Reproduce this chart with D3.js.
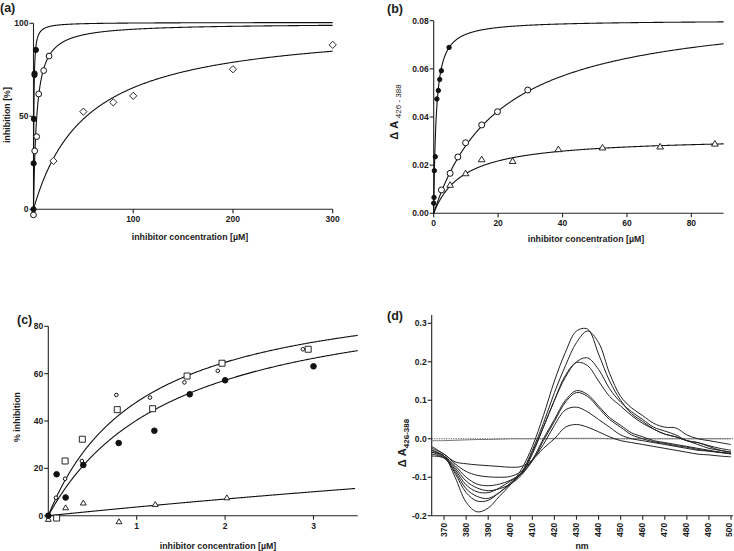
<!DOCTYPE html>
<html><head><meta charset="utf-8">
<script src="https://cdn.jsdelivr.net/npm/d3@7"></script>
<style>
body{margin:0;background:#fff}
svg text{font-family:"Liberation Sans",Arial,sans-serif;font-weight:bold;fill:#1a1a1a}
</style></head>
<body><svg width="734" height="551"></svg>
<script>
// ---------- Panel (a) ----------
const aTicksX=[100,200,300], aTicksY=[0,50,100];
const aFilledX=[0,0.15,0.4,1.0,1.05,2.4], aFilledY=[0,24.7,48.6,72.2,73,85.7];
const aOpenX=[0,1.2,3.2,5.2,10.2,15.6], aOpenY=[-3,31.4,39.1,62,74.6,82.4];
const aDiamX=[20,50,80,100,200,300], aDiamY=[26,52.5,57.5,61,75.3,88.4];
const aFitBmax=[100.5,100,100], aFitKd=[0.36,3.3,53];
// ---------- Panel (b) ----------
const bTicksX=[0,20,40,60,80], bTicksY=[0,0.02,0.04,0.06,0.08];
const bFilledX=[0,0.1,0.2,0.5,1.0,1.45,1.87,2.38,4.77], bFilledY=[0.0042,0.0066,0.0177,0.0235,0.0475,0.0510,0.0556,0.0592,0.0689];
const bOpenX=[2.4,5.1,7.5,9.9,14.9,19.8,29.2], bOpenY=[0.0097,0.0166,0.0234,0.0293,0.0367,0.0422,0.0512];
const bTriX=[5.1,9.9,14.9,24.5,38.7,52.4,70.3,87.3], bTriY=[0.0118,0.0166,0.0224,0.0217,0.0266,0.0273,0.0277,0.0289];
const bFitBmax=[0.0802,0.0867,0.0318], bFitKd=[0.787,20.8,9.25];
// ---------- Panel (c) ----------
const cTicksX=[1,2,3], cTicksY=[0,20,40,60,80];
const cFilledX=[0,0.094,0.196,0.396,0.796,1.2,1.6,2.0,3.0], cFilledY=[0,17.5,7.7,21.4,30.7,35.9,51.3,57.2,63.1];
const cSquareX=[0.094,0.19,0.385,0.78,1.18,1.57,1.965,2.94], cSquareY=[-1,23.1,32.3,44.8,45.2,59.0,64.4,70.3];
const cOpenX=[0.087,0.19,0.38,0.77,1.15,1.54,1.917,2.88], cOpenY=[7.6,15.6,23.1,51.0,49.9,56.3,61.2,70.3];
const cTriX=[0,0.196,0.396,0.8,1.21,2.02], cTriY=[-1.5,3.4,5.4,-2.5,4.8,7.6];
const cFitBmax=[99.5,98.4,83], cFitKd=[1.072,1.44,21.6];
// ---------- Panel (d) ----------
const dTicksX=[370,380,390,400,410,420,430,440,450,460,470,480,490,500];
const dTicksY=[-0.2,-0.1,0.0,0.1,0.2,0.3];
const dTickLabelsY=["-0.2","-0.1","0.0","0.1","0.2","0.3"];
const dNm=[365,370,375,380,385,390,395,400,405,410,415,420,425,430,435,440,445,450,455,460,465,470,475,480,485,490,495,500];
const dSpecA=[-0.030,-0.045,-0.100,-0.165,-0.190,-0.180,-0.150,-0.120,-0.080,-0.020,0.060,0.150,0.225,0.280,0.285,0.220,0.150,0.100,0.065,0.045,0.025,0.012,0.005,-0.005,-0.010,-0.018,-0.025,-0.030];
const dSpecB=[-0.035,-0.045,-0.090,-0.140,-0.162,-0.160,-0.140,-0.118,-0.088,-0.030,0.040,0.120,0.190,0.250,0.280,0.250,0.170,0.110,0.080,0.060,0.040,0.030,0.028,0.010,0.000,-0.005,-0.010,-0.015];
const dSpecC=[-0.040,-0.050,-0.085,-0.130,-0.150,-0.155,-0.140,-0.115,-0.090,-0.035,0.030,0.100,0.160,0.200,0.210,0.180,0.130,0.095,0.070,0.050,0.030,0.020,0.010,-0.005,-0.010,-0.020,-0.030,-0.035];
const dSpecD=[-0.045,-0.050,-0.080,-0.120,-0.138,-0.140,-0.128,-0.110,-0.092,-0.040,0.030,0.100,0.165,0.198,0.190,0.150,0.110,0.085,0.060,0.040,0.025,0.012,0.005,-0.005,-0.015,-0.025,-0.030,-0.035];
const dSpecE=[-0.035,-0.048,-0.075,-0.110,-0.128,-0.135,-0.130,-0.118,-0.095,-0.055,0.000,0.050,0.100,0.125,0.115,0.085,0.055,0.035,0.015,0.005,-0.005,-0.010,-0.015,-0.020,-0.025,-0.030,-0.035,-0.040];
const dSpecF=[-0.030,-0.045,-0.070,-0.100,-0.118,-0.122,-0.118,-0.108,-0.090,-0.058,-0.005,0.045,0.095,0.120,0.110,0.080,0.050,0.030,0.010,0.000,-0.008,-0.012,-0.018,-0.022,-0.028,-0.032,-0.036,-0.038];
const dSpecG=[-0.025,-0.040,-0.065,-0.085,-0.095,-0.099,-0.100,-0.098,-0.085,-0.055,-0.015,0.035,0.075,0.082,0.070,0.050,0.030,0.010,0.000,-0.005,-0.010,-0.015,-0.020,-0.025,-0.030,-0.032,-0.035,-0.038];
const dSpecH=[-0.020,-0.040,-0.060,-0.065,-0.068,-0.070,-0.072,-0.074,-0.072,-0.055,-0.025,0.000,0.030,0.037,0.030,0.018,0.005,-0.005,-0.010,-0.015,-0.020,-0.025,-0.030,-0.035,-0.040,-0.042,-0.045,-0.047];
const dBase=[-0.005,-0.005,-0.004,-0.003,-0.002,-0.002,-0.001,0,0,0,0,0.001,0.001,0.001,0.001,0.001,0,0,0,0,0,0,0,0,0,0,0,0];

const svg=d3.select("svg");
const FS=8.5;

function axes(g,x,y,xt,yt,opts){
  const o=Object.assign({xFmt:d=>d,yFmt:d=>d,xAxisY:y(0),yTop:null,xEnd:null},opts);
  const [x0,x1]=x.range(), [y0,y1]=y.range();
  g.append("line").attr("x1",x0).attr("x2",x0).attr("y1",o.yTop!=null?o.yTop:y1).attr("y2",y0)
    .attr("stroke","#222").attr("stroke-width",1.1);
  g.append("line").attr("x1",x0).attr("x2",o.xEnd!=null?o.xEnd:x1).attr("y1",o.xAxisY).attr("y2",o.xAxisY)
    .attr("stroke","#222").attr("stroke-width",1.1);
  yt.forEach((t,i)=>{
    g.append("line").attr("x1",x0-4).attr("x2",x0).attr("y1",y(t)).attr("y2",y(t)).attr("stroke","#222").attr("stroke-width",1.1);
    g.append("text").attr("x",x0-5).attr("y",y(t)).attr("dy","0.35em").attr("text-anchor","end")
      .attr("font-size",FS).text(o.yFmt(t,i));
  });
  xt.forEach((t,i)=>{
    g.append("line").attr("x1",x(t)).attr("x2",x(t)).attr("y1",o.xAxisY).attr("y2",o.xAxisY+4).attr("stroke","#222").attr("stroke-width",1.1);
    if(!o.rotX){
      g.append("text").attr("x",x(t)).attr("y",o.xAxisY+13).attr("text-anchor","middle")
        .attr("font-size",FS).text(o.xFmt(t,i));
    } else {
      g.append("text").attr("transform",`translate(${Math.min(x(t),729.3)},${o.xAxisY+7}) rotate(-90)`).attr("dy","0.3em")
        .attr("text-anchor","end").attr("font-size",FS).text(o.xFmt(t,i));
    }
  });
}
function fit(g,x,y,bmax,kd,xmax){
  const pts=d3.range(0,601).map(i=>{const xv=xmax*Math.pow(i/600,2.2);return [x(xv),y(bmax*xv/(kd+xv))];});
  g.append("path").attr("d",d3.line()(pts)).attr("fill","none").attr("stroke","#111").attr("stroke-width",1.1);
}
function circles(g,x,y,xs,ys,r,fill){
  g.selectAll(null).data(xs).join("circle").attr("cx",d=>x(d)).attr("cy",(d,i)=>y(ys[i])).attr("r",r)
    .attr("fill",fill).attr("stroke","#111").attr("stroke-width",1);
}
function shapes(g,x,y,xs,ys,pathStr){
  g.selectAll(null).data(xs).join("path").attr("d",pathStr)
    .attr("transform",(d,i)=>`translate(${x(d)},${y(ys[i])})`)
    .attr("fill","#fff").attr("stroke","#111").attr("stroke-width",0.9);
}
const diamond=s=>`M0,${-s}L${s},0L0,${s}L${-s},0Z`;
const tri=s=>`M0,${-s}L${s*1.05},${s*0.75}L${-s*1.05},${s*0.75}Z`;
const square=s=>`M${-s},${-s}H${s}V${s}H${-s}Z`;
function title(g,txt,x,y){g.append("text").attr("x",x).attr("y",y).attr("font-size",12.5).text(txt);}
function xlab(g,txt,x,y){g.append("text").attr("x",x).attr("y",y).attr("text-anchor","middle").attr("font-size",8.8).text(txt);}

// ----- (a)
{
  const g=svg.append("g");
  const x=d3.scaleLinear().domain([0,300]).range([33.5,332.7]);
  const y=d3.scaleLinear().domain([0,100]).range([209.3,23.3]);
  axes(g,x,y,aTicksX,aTicksY,{});
  fit(g,x,y,aFitBmax[0],aFitKd[0],300);
  fit(g,x,y,aFitBmax[1],aFitKd[1],300);
  fit(g,x,y,aFitBmax[2],aFitKd[2],300);
  shapes(g,x,y,aDiamX,aDiamY,diamond(3.6));
  circles(g,x,y,aOpenX,aOpenY,2.9,"#fff");
  circles(g,x,y,aFilledX,aFilledY,2.6,"#111");
  title(g,"(a)",0,12);
  xlab(g,"inhibitor concentration [µM]",190,240);
  g.append("text").attr("transform","translate(10,115) rotate(-90)").attr("text-anchor","middle").attr("font-size",8.8).text("inhibition [%]");
}
// ----- (b)
{
  const g=svg.append("g");
  const x=d3.scaleLinear().domain([0,90]).range([433.7,723.6]);
  const y=d3.scaleLinear().domain([0,0.08]).range([213.3,20.7]);
  axes(g,x,y,bTicksX,bTicksY,{yFmt:d=>d3.format(".2f")(d)});
  fit(g,x,y,bFitBmax[0],bFitKd[0],90);
  fit(g,x,y,bFitBmax[1],bFitKd[1],90);
  fit(g,x,y,bFitBmax[2],bFitKd[2],90);
  shapes(g,x,y,bTriX,bTriY,tri(3.2));
  circles(g,x,y,bOpenX,bOpenY,3,"#fff");
  circles(g,x,y,bFilledX,bFilledY,2.2,"#111");
  title(g,"(b)",387,13);
  xlab(g,"inhibitor concentration [µM]",586,242);
  const t=g.append("text").attr("transform","translate(398,112) rotate(-90)").attr("text-anchor","middle");
  t.append("tspan").attr("font-size",11).text("Δ A ");
  t.append("tspan").attr("font-size",8).attr("font-weight","normal").attr("dy",3).text("426 - 388");
}
// ----- (c)
{
  const g=svg.append("g");
  const x=d3.scaleLinear().domain([0,3.5]).range([48.3,357.7]);
  const y=d3.scaleLinear().domain([0,80]).range([515.7,326.3]);
  axes(g,x,y,cTicksX,cTicksY,{});
  fit(g,x,y,cFitBmax[0],cFitKd[0],3.5);
  fit(g,x,y,cFitBmax[1],cFitKd[1],3.5);
  fit(g,x,y,cFitBmax[2],cFitKd[2],3.47);
  shapes(g,x,y,cTriX,cTriY,tri(2.8));
  shapes(g,x,y,cSquareX,cSquareY,square(3));
  circles(g,x,y,cOpenX,cOpenY,1.8,"#fff");
  circles(g,x,y,cFilledX,cFilledY,2.8,"#111");
  title(g,"(c)",17,324);
  xlab(g,"inhibitor concentration [µM]",218,549);
  g.append("text").attr("transform","translate(20,417) rotate(-90)").attr("text-anchor","middle").attr("font-size",8.8).text("% inhibition");
}
// ----- (d)
{
  const g=svg.append("g");
  const x=d3.scaleLinear().domain([364.4,500]).range([431.7,731]);
  const y=d3.scaleLinear().domain([-0.2,0.3]).range([515.7,323.3]);
  axes(g,x,y,dTicksX,dTicksY,{xAxisY:y(-0.2),yTop:315,rotX:true,yFmt:(d,i)=>dTickLabelsY[i],xEnd:733});
  g.append("line").attr("x1",x(364.4)).attr("x2",734).attr("y1",y(0)).attr("y2",y(0))
    .attr("stroke","#444").attr("stroke-width",0.9).attr("stroke-dasharray","1.2,1.2");
  const lineGen=d3.line().curve(d3.curveCatmullRom.alpha(0.5));
  g.append("path").attr("d",lineGen(dBase.map((v,i)=>[x(i===0?364.4:dNm[i]),y(v)])))
    .attr("fill","none").attr("stroke","#777").attr("stroke-width",1);
  [dSpecA,dSpecB,dSpecC,dSpecD,dSpecE,dSpecF,dSpecG,dSpecH].forEach(s=>{
    const pts=s.map((v,i)=>[x(i===0?364.4:dNm[i]),y(v)]);
    g.append("path").attr("d",lineGen(pts))
      .attr("fill","none").attr("stroke","#222").attr("stroke-width",1);
  });
  title(g,"(d)",387,320);
  xlab(g,"nm",582,549);
  const t=g.append("text").attr("transform","translate(406,443) rotate(-90)").attr("text-anchor","middle");
  t.append("tspan").attr("font-size",11).text("Δ A");
  t.append("tspan").attr("font-size",8).attr("dy",3).text("426-388");
}
</script></body></html>
